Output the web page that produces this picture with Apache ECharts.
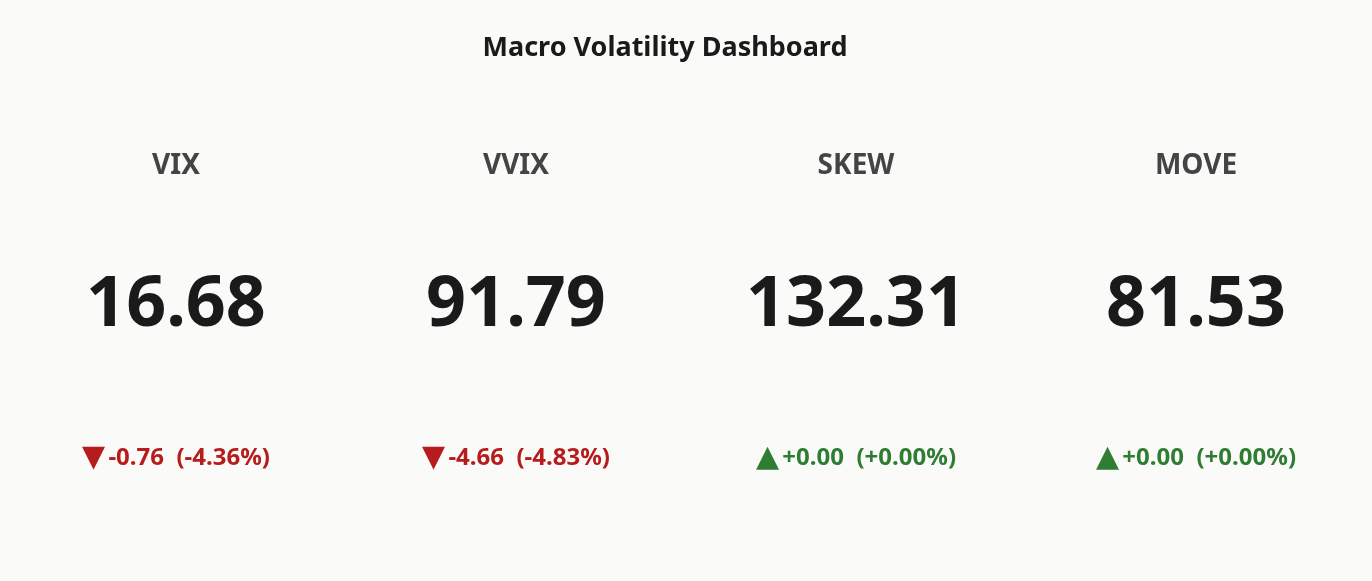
<!DOCTYPE html>
<html><head><meta charset="utf-8">
<script src="https://cdn.jsdelivr.net/npm/echarts@6/dist/echarts.min.js"></script>
<style>html,body{margin:0;padding:0;background:#fafaf8}#c{width:1372px;height:581px}</style>
</head><body><div id="c"></div>
<script>
const names = ["VIX", "VVIX", "SKEW", "MOVE"];
const values = [16.68, 91.79, 132.31, 81.53];
const changes = [-0.76, -4.66, 0.00, 0.00];
const pcts = [-4.36, -4.83, 0.00, 0.00];
const centers = [176, 516, 856, 1196];

const font = '"Noto Sans", "Open Sans", sans-serif';
const els = [];
names.forEach((n, i) => {
  const x = centers[i];
  const up = changes[i] >= 0;
  const col = up ? '#2e7d32' : '#b71c1c';
  const sign = up ? '+' : '';
  els.push({type:'text', x, y:166, style:{text:n, fill:'#444', font:'bold 28px '+font, align:'center', verticalAlign:'middle'}});
  els.push({type:'text', x, y:306, style:{text:values[i].toFixed(2), fill:'#1a1a1a', font:'bold 70px '+font, align:'center', verticalAlign:'middle'}});
  els.push({type:'text', x, y:458, style:{
    text:'{t|' + (up?'▲':'▼') + '} {v|' + sign + changes[i].toFixed(2) + '  (' + sign + pcts[i].toFixed(2) + '%)}',
    align:'center', verticalAlign:'middle',
    rich:{t:{fill:col, fontSize:30, fontFamily:'DejaVu Sans', verticalAlign:'middle'}, v:{fill:col, fontSize:24, fontWeight:'bold', fontFamily:font, verticalAlign:'middle'}}
  }});
});
const chart = echarts.init(document.getElementById('c'));
chart.setOption({
  backgroundColor:'#fafaf8',
  graphic: [{type:'text', x:665, y:48, style:{text:'Macro Volatility Dashboard', fill:'#1a1a1a', font:'bold 27px '+font, align:'center', verticalAlign:'middle'}}].concat(els)
});
</script></body></html>
